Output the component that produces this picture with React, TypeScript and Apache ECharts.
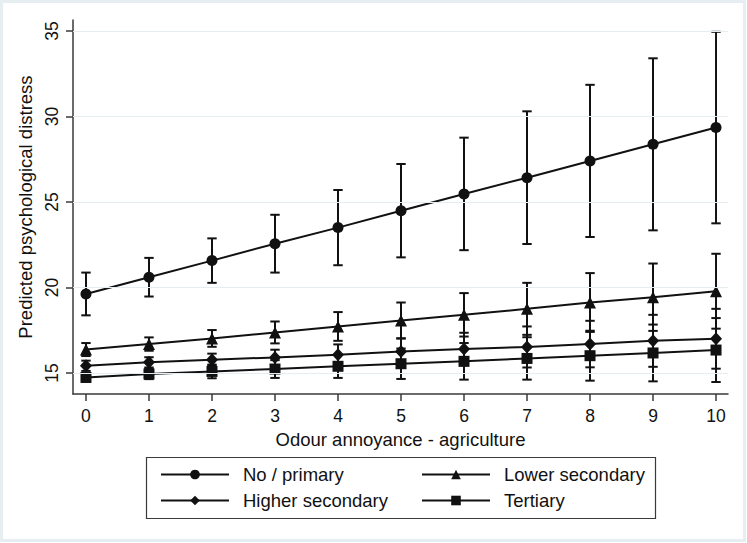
import React, { useEffect, useRef } from "react";
import * as echarts from "echarts";

const X_VALUES = [0, 1, 2, 3, 4, 5, 6, 7, 8, 9, 10];
const X_TICKS = [0, 1, 2, 3, 4, 5, 6, 7, 8, 9, 10];
const Y_TICKS = [15, 20, 25, 30, 35];

const NO_PRIMARY = [19.62, 20.6, 21.57, 22.56, 23.5, 24.49, 25.47, 26.42, 27.4, 28.37, 29.35];
const NO_PRIMARY_CI = [1.25, 1.13, 1.3, 1.69, 2.2, 2.73, 3.29, 3.88, 4.45, 5.03, 5.6];
const LOWER_SEC = [16.37, 16.69, 17.02, 17.37, 17.72, 18.07, 18.4, 18.75, 19.12, 19.43, 19.78];
const LOWER_SEC_CI = [0.38, 0.39, 0.49, 0.64, 0.84, 1.05, 1.27, 1.52, 1.72, 1.97, 2.19];
const HIGHER_SEC = [15.42, 15.62, 15.78, 15.91, 16.07, 16.26, 16.4, 16.52, 16.69, 16.88, 17.0];
const HIGHER_SEC_CI = [0.3, 0.3, 0.35, 0.45, 0.6, 0.76, 0.95, 1.2, 1.36, 1.52, 1.75];
const TERTIARY = [14.74, 14.94, 15.09, 15.23, 15.39, 15.54, 15.68, 15.85, 16.01, 16.17, 16.34];
const TERTIARY_CI = [0.25, 0.3, 0.4, 0.52, 0.68, 0.89, 1.07, 1.24, 1.46, 1.66, 1.87];

const GROUPS = [
  { name: "No / primary", values: NO_PRIMARY, ci: NO_PRIMARY_CI, symbol: "circle", size: 11 },
  { name: "Lower secondary", values: LOWER_SEC, ci: LOWER_SEC_CI, symbol: "triangle", size: 12 },
  { name: "Higher secondary", values: HIGHER_SEC, ci: HIGHER_SEC_CI, symbol: "diamond", size: [12, 13] },
  { name: "Tertiary", values: TERTIARY, ci: TERTIARY_CI, symbol: "rect", size: 11 },
];

const FONT = "'Liberation Sans', Arial, sans-serif";
const INK = "#111";
const AXIS = "#3a3a3a";

export default function App() {
  const ref = useRef<HTMLDivElement>(null);
  useEffect(() => {
    if (!ref.current) return;
    const chart = echarts.init(ref.current, undefined, { renderer: "svg" });

    const errData: number[][] = [];
    GROUPS.forEach((g) => {
      X_VALUES.forEach((x, i) => {
        errData.push([x, g.values[i] - g.ci[i], g.values[i] + g.ci[i]]);
      });
    });

    const lineSeries = GROUPS.map((g) => ({
      name: g.name,
      type: "line",
      data: X_VALUES.map((x, i) => [x, g.values[i]]),
      symbol: g.symbol,
      symbolSize: g.size,
      showSymbol: true,
      itemStyle: { color: INK },
      lineStyle: { color: INK, width: 2 },
      z: 4,
    }));

    const legendText = { fontSize: 18.5, color: INK, fontFamily: FONT, padding: [0, 0, 0, 9] };

    chart.setOption({
      animation: false,
      backgroundColor: "#ffffff",
      textStyle: { fontFamily: FONT, color: INK },
      grid: { left: 73, right: 19, top: 20, bottom: 149, containLabel: false },
      xAxis: {
        type: "value",
        min: -0.206,
        max: 10.19,
        name: "Odour annoyance - agriculture",
        nameLocation: "middle",
        nameGap: 32,
        nameTextStyle: { fontSize: 18.5, color: INK, fontFamily: FONT },
        axisLine: { show: true, onZero: false, lineStyle: { color: AXIS, width: 1.5 } },
        axisTick: { show: true, length: 7, customValues: X_TICKS, lineStyle: { color: AXIS, width: 1.5 } },
        axisLabel: { customValues: X_TICKS, fontSize: 17.5, color: INK, margin: 13, fontFamily: FONT },
        splitLine: { show: false },
      },
      yAxis: {
        type: "value",
        min: 13.77,
        max: 35.64,
        name: "Predicted psychological distress",
        nameLocation: "middle",
        nameGap: 30,
        nameTextStyle: { fontSize: 18.5, color: INK, fontFamily: FONT },
        axisLine: { show: true, onZero: false, lineStyle: { color: AXIS, width: 1.5 } },
        axisTick: { show: true, length: 7, customValues: Y_TICKS, lineStyle: { color: AXIS, width: 1.5 } },
        axisLabel: { customValues: Y_TICKS, fontSize: 17.5, color: INK, margin: 12, rotate: 90, fontFamily: FONT },
        splitLine: { show: false },
      },
      legend: [
        {
          orient: "vertical",
          left: 155,
          top: 460,
          itemWidth: 68,
          itemHeight: 12,
          itemGap: 7,
          textStyle: legendText,
          data: ["No / primary", "Higher secondary"],
        },
        {
          orient: "vertical",
          left: 416,
          top: 460,
          itemWidth: 68,
          itemHeight: 12,
          itemGap: 7,
          textStyle: legendText,
          data: ["Lower secondary", "Tertiary"],
        },
      ],
      graphic: [
        {
          type: "rect",
          shape: { x: 1.5, y: 1.5, width: 743, height: 539 },
          style: { fill: "none", stroke: "#e6eef1", lineWidth: 3 },
          silent: true,
        },
        {
          type: "rect",
          shape: { x: 146.5, y: 457.5, width: 509, height: 61 },
          style: { fill: "none", stroke: AXIS, lineWidth: 1.2 },
          silent: true,
        },
      ],
      series: [
        {
          name: "_grid",
          type: "line",
          data: [],
          z: 1,
          silent: true,
          markLine: {
            silent: true,
            symbol: "none",
            label: { show: false },
            lineStyle: { color: "#e4edf0", width: 1.2, type: "solid" },
            data: Y_TICKS.map((v) => ({ yAxis: v })),
          },
        },
        {
          name: "_err",
          type: "custom",
          z: 3,
          data: errData,
          encode: { x: 0, y: [1, 2] },
          renderItem: (params: any, api: any) => {
            const x = api.value(0);
            const lo = api.coord([x, api.value(1)]);
            const hi = api.coord([x, api.value(2)]);
            const w = 4.7;
            const style = { stroke: INK, lineWidth: 2 };
            return {
              type: "group",
              children: [
                { type: "line", shape: { x1: lo[0], y1: lo[1], x2: hi[0], y2: hi[1] }, style },
                { type: "line", shape: { x1: lo[0] - w, y1: lo[1], x2: lo[0] + w, y2: lo[1] }, style },
                { type: "line", shape: { x1: hi[0] - w, y1: hi[1], x2: hi[0] + w, y2: hi[1] }, style },
              ],
            };
          },
        },
        ...lineSeries,
      ],
    });
    return () => chart.dispose();
  }, []);
  return <div ref={ref} style={{ position: "fixed", left: 0, top: 0, width: 747, height: 543 }} />;
}
